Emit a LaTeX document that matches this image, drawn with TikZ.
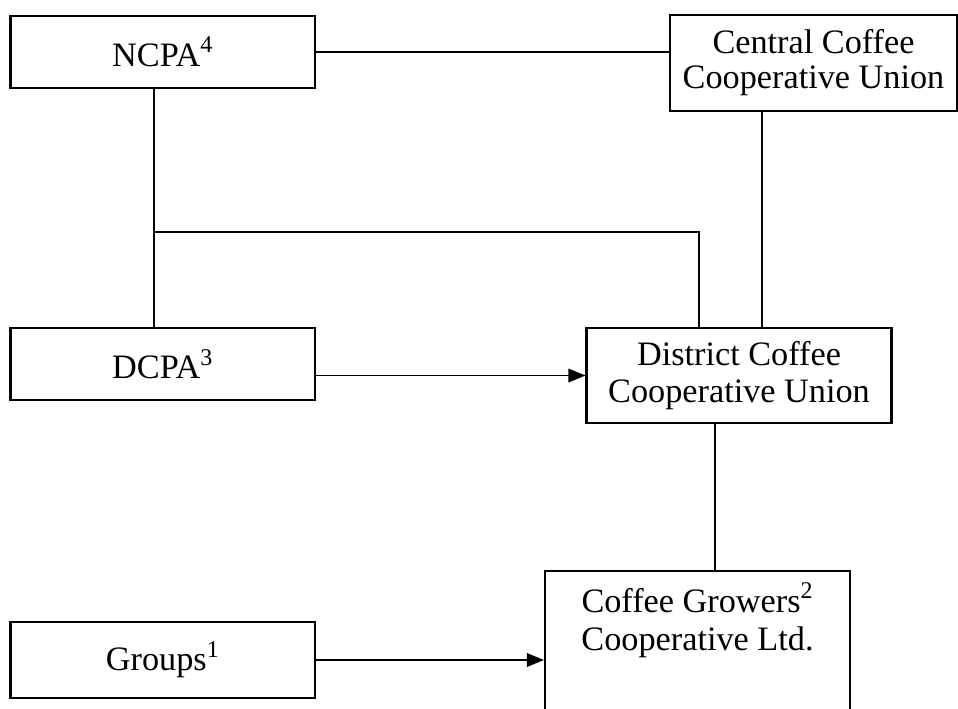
\documentclass[tikz,border=0pt]{standalone}
\usepackage{fontspec}
\setmainfont{Liberation Serif}
\usetikzlibrary{arrows.meta}

\begin{document}
\begin{tikzpicture}[x=0.02cm,y=-0.02cm,
  box/.style={draw,line width=1.2pt,align=center,inner xsep=0pt,inner ysep=0pt},
  conn/.style={line width=1pt},
  arr/.style={conn,-{Triangle[length=0.34cm,width=0.27cm]}}]
\useasboundingbox (0,0) rectangle (958,708);
% boxes
\node[box,minimum width=6.09cm,minimum height=1.44cm,font=\fontsize{19.5}{19}\selectfont] (ncpa) at (162.75,51.7) {NCPA\textsuperscript{4}};
\node[box,minimum width=5.74cm,minimum height=1.92cm,font=\fontsize{19.5}{20}\selectfont] (ccu) at (813.5,63) {Central Coffee\\Cooperative Union};
\node[box,minimum width=6.09cm,minimum height=1.44cm,font=\fontsize{19.5}{19}\selectfont] (dcpa) at (162.75,364) {DCPA\textsuperscript{3}};
\node[box,minimum width=6.1cm,minimum height=1.9cm,font=\fontsize{19.5}{21}\selectfont] (dccu) at (739,375.5) {District Coffee\\Cooperative Union};
\node[box,anchor=north,minimum width=6.1cm,inner ysep=0.24cm,text depth=4cm,font=\fontsize{19.5}{21.6}\selectfont] (growers) at (697.5,570) {Coffee Growers\textsuperscript{2}\\Cooperative Ltd.};
\node[box,minimum width=6.09cm,minimum height=1.52cm,font=\fontsize{19.5}{19}\selectfont] (groups) at (162.75,660) {Groups\textsuperscript{1}};
% connectors
\coordinate (jl) at (154,232);
\coordinate (jr) at (699,232);
\coordinate (cv) at (762,0);
\coordinate (gv) at (715,0);
\draw[conn] (ncpa.east) -- (ncpa.east -| ccu.west);
\draw[conn] (ncpa.south -| jl) -- (dcpa.north -| jl);
\draw[conn] (jl) -- (jr) -- (jr |- dccu.north);
\draw[conn] (ccu.south -| cv) -- (dccu.north -| cv);
\draw[arr] (dcpa.east |- dccu.west) -- (dccu.west);
\draw[conn] (dccu.south -| gv) -- (growers.north -| gv);
\draw[arr] (groups.east) -- (groups.east -| growers.west);
\end{tikzpicture}
\end{document}
